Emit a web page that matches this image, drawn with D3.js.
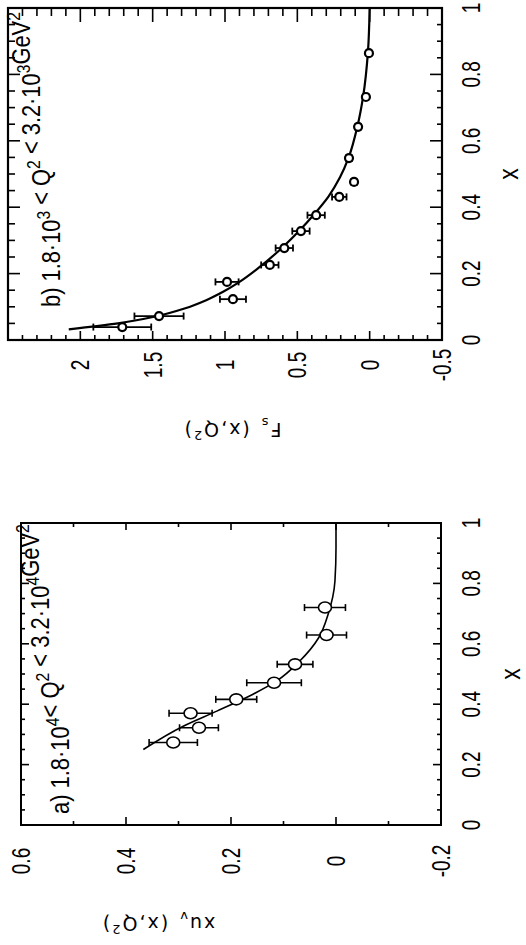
<!DOCTYPE html>
<html>
<head>
<meta charset="utf-8">
<title>xuv and Fs</title>
<script src="https://cdn.jsdelivr.net/npm/d3@7"></script>
<style>
  body { margin: 0; background: #fff; }
  svg text { font-family: "Liberation Sans", Arial, sans-serif; fill: #000; }
  svg text.lbl { font-family: "DejaVu Sans", sans-serif; }
</style>
</head>
<body>
<svg id="fig" width="526" height="945"></svg>
<script>
// common x axis
const xTicks = [0, 0.2, 0.4, 0.6, 0.8, 1];
const xTickLabels = ["0", "0.2", "0.4", "0.6", "0.8", "1"];

// a) xu_v(x,Q^2), 1.8e4 < Q^2 < 3.2e4 GeV^2
const xA = [0.273, 0.322, 0.370, 0.416, 0.471, 0.532, 0.629, 0.720];
const valA = [0.310, 0.261, 0.277, 0.190, 0.118, 0.078, 0.018, 0.021];
const errA = [0.046, 0.037, 0.041, 0.039, 0.052, 0.034, 0.038, 0.039];
const fitXA = [0.25, 0.328, 0.377, 0.433, 0.477, 0.543, 0.62, 0.698, 0.808, 0.918, 1.0];
const fitA = [0.367, 0.29, 0.227, 0.158, 0.113, 0.069, 0.033, 0.015, 0.002, 0.0, 0.0];
const yTicksA = [-0.2, 0, 0.2, 0.4, 0.6];
const yTickLabelsA = ["-0.2", "0", "0.2", "0.4", "0.6"];

// b) F_s(x,Q^2), 1.8e3 < Q^2 < 3.2e3 GeV^2
const xB = [0.039, 0.072, 0.123, 0.175, 0.226, 0.277, 0.328, 0.376, 0.431, 0.476, 0.548, 0.642, 0.732, 0.864];
const valB = [1.71, 1.456, 0.945, 0.986, 0.69, 0.59, 0.475, 0.37, 0.21, 0.108, 0.143, 0.08, 0.026, 0.005];
const errB = [0.20, 0.17, 0.09, 0.08, 0.06, 0.06, 0.06, 0.06, 0.05, 0.02, 0.02, 0.02, 0.015, 0.015];
const fitXB = [0.032, 0.05, 0.07, 0.095, 0.12, 0.146, 0.172, 0.22, 0.278, 0.332, 0.378, 0.432, 0.49, 0.55, 0.643, 0.734, 0.867, 1.0];
const fitB = [2.08, 1.74, 1.49, 1.28, 1.13, 1.01, 0.91, 0.76, 0.605, 0.48, 0.385, 0.285, 0.205, 0.145, 0.085, 0.045, 0.012, 0.0];
const yTicksB = [-0.5, 0, 0.5, 1, 1.5, 2];
const yTickLabelsB = ["-0.5", "0", "0.5", "1", "1.5", "2"];

const svg = d3.select("#fig");
svg.append("rect").attr("width", 526).attr("height", 945).attr("fill", "#fff");
// whole figure is turned a quarter turn counter-clockwise
const fig = svg.append("g").attr("transform", "translate(0,945) rotate(-90)");

const NARROW = 0.76; // the original lettering is condensed

function panel(o) {
  const g = fig.append("g");
  const x = d3.scaleLinear([0, 1], o.xr);
  const y = d3.scaleLinear(o.yd, o.yr);
  const [u0, u1] = o.xr, [vb, vt] = o.yr;

  g.append("rect").attr("x", u0).attr("y", vt).attr("width", u1 - u0).attr("height", vb - vt)
    .attr("fill", "none").attr("stroke", "#000").attr("stroke-width", o.frameW);

  // inward ticks on four sides
  const isMajor = (v, step) => Math.abs(v / step - Math.round(v / step)) < 1e-6;
  x.ticks(20).forEach(t => {
    const L = isMajor(t, 0.2) ? o.xTickL[0] : o.xTickL[1];
    g.append("line").attr("x1", x(t)).attr("x2", x(t)).attr("y1", vb).attr("y2", vb - L)
      .attr("stroke", "#000").attr("stroke-width", 1.6);
    const L2 = isMajor(t, 0.2) ? o.xTickT[0] : o.xTickT[1];
    g.append("line").attr("x1", x(t)).attr("x2", x(t)).attr("y1", vt).attr("y2", vt + L2)
      .attr("stroke", "#000").attr("stroke-width", 1.6);
  });
  y.ticks(o.yCount).forEach(t => {
    const L = isMajor(t, o.yMajor) ? o.yTickL[0] : o.yTickL[1];
    g.append("line").attr("x1", u0).attr("x2", u0 + L).attr("y1", y(t)).attr("y2", y(t))
      .attr("stroke", "#000").attr("stroke-width", 1.6);
    const L2 = isMajor(t, o.yMajor) ? o.yTickR[0] : o.yTickR[1];
    g.append("line").attr("x1", u1).attr("x2", u1 - L2).attr("y1", y(t)).attr("y2", y(t))
      .attr("stroke", "#000").attr("stroke-width", 1.6);
  });

  // tick labels
  g.selectAll(null).data(xTicks).join("text")
    .attr("transform", d => `translate(${x(d)},${o.xLabV}) scale(${NARROW},1)`)
    .attr("text-anchor", "middle").attr("font-size", 25).text((d, i) => xTickLabels[i]);
  g.selectAll(null).data(o.yTicks).join("text")
    .attr("transform", d => `translate(${o.yLabU},${y(d)}) scale(${NARROW},1)`)
    .attr("dy", "0.36em").attr("text-anchor", "middle")
    .attr("font-size", 25).text((d, i) => o.yTickLabels[i]);

  // axis titles
  g.append("text").attr("transform", `translate(${x(0.5)},${o.xTitleV}) scale(0.85,1)`)
    .attr("text-anchor", "middle").attr("font-size", 27).text("x");
  const yt = g.append("text").attr("class", "lbl")
    .attr("transform", `translate(${o.yTitleU},${o.yTitleV}) rotate(-90)`)
    .attr("text-anchor", "middle").attr("font-size", 19).attr("letter-spacing", 2);
  o.yTitle(yt);

  // panel label, squeezed to the width it has in the original
  const tt = g.append("text").attr("font-size", 25);
  o.title(tt);
  const len = tt.node().getComputedTextLength();
  tt.attr("transform", `translate(${o.titleU},${o.titleV}) scale(${o.titleLen / len},1)`);

  // fit curve
  const line = d3.line().x(d => x(d[0])).y(d => y(d[1])).curve(d3.curveMonotoneX);
  g.append("path").attr("d", line(d3.zip(o.fitX, o.fit)))
    .attr("fill", "none").attr("stroke", "#000").attr("stroke-width", o.curveW);

  // data with error bars
  const pts = d3.zip(o.px, o.pv, o.pe);
  const eb = g.selectAll(null).data(pts).join("g").attr("stroke", "#000").attr("stroke-width", o.errW);
  eb.append("line").attr("x1", d => x(d[0])).attr("x2", d => x(d[0]))
    .attr("y1", d => y(d[1] - d[2])).attr("y2", d => y(d[1] + d[2]));
  eb.append("line").attr("x1", d => x(d[0]) - o.cap).attr("x2", d => x(d[0]) + o.cap)
    .attr("y1", d => y(d[1] - d[2])).attr("y2", d => y(d[1] - d[2]));
  eb.append("line").attr("x1", d => x(d[0]) - o.cap).attr("x2", d => x(d[0]) + o.cap)
    .attr("y1", d => y(d[1] + d[2])).attr("y2", d => y(d[1] + d[2]));
  g.selectAll(null).data(pts).join("ellipse")
    .attr("cx", d => x(d[0])).attr("cy", d => y(d[1]))
    .attr("rx", o.r[0]).attr("ry", o.r[1])
    .attr("fill", "#fff").attr("stroke", "#000").attr("stroke-width", o.markW);
}

function sup(t, s) {
  t.append("tspan").attr("dy", -10).attr("font-size", 18).text(s);
  t.append("tspan").attr("dy", 10).text("");
}

function yLabel(main, sub) {
  return t => {
    t.append("tspan").text(main);
    t.append("tspan").attr("dy", 5).attr("font-size", 13).text(sub);
    t.append("tspan").attr("dy", -5).attr("dx", 10).text("(x,Q");
    t.append("tspan").attr("dy", -8).attr("font-size", 13).text("2");
    t.append("tspan").attr("dy", 8).text(")");
  };
}

panel({
  xr: [120, 422], yd: [-0.2, 0.6], yr: [441, 21], frameW: 2,
  xTickL: [8, 4], xTickT: [8, 4], yTickL: [8, 4], yTickR: [7, 4], yCount: 8, yMajor: 0.2,
  yTicks: yTicksA, yTickLabels: yTickLabelsA,
  xLabV: 480, yLabU: 84, xTitleV: 520,
  yTitleU: 28, yTitleV: 158, yTitle: yLabel("xu", "v"),
  titleU: 131, titleV: 69, titleLen: 290,
  title: t => {
    t.append("tspan").text("a)  1.8·10");
    sup(t, "4");
    t.append("tspan").text("< Q");
    sup(t, "2");
    t.append("tspan").text(" < 3.2·10");
    sup(t, "4");
    t.append("tspan").text("GeV");
    sup(t, "2");
  },
  fitX: fitXA, fit: fitA, curveW: 1.6,
  px: xA, pv: valA, pe: errA, errW: 1.6, cap: 3.5, r: [5.5, 6.5], markW: 1.6
});

panel({
  xr: [605, 937], yd: [-0.5, 2.5], yr: [442, 8], frameW: 2.2,
  xTickL: [12, 5], xTickT: [12, 7], yTickL: [9, 5], yTickR: [14, 8], yCount: 30, yMajor: 0.5,
  yTicks: yTicksB, yTickLabels: yTickLabelsB,
  xLabV: 480, yLabU: 580, xTitleV: 518,
  yTitleU: 522, yTitleV: 232, yTitle: yLabel("F", "s"),
  titleU: 638, titleV: 60, titleLen: 295,
  title: t => {
    t.append("tspan").text("b)   1.8·10");
    sup(t, "3");
    t.append("tspan").text(" < Q");
    sup(t, "2");
    t.append("tspan").text(" < 3.2·10");
    sup(t, "3");
    t.append("tspan").text("GeV");
    sup(t, "2");
  },
  fitX: fitXB, fit: fitB, curveW: 2.2,
  px: xB, pv: valB, pe: errB, errW: 1.8, cap: 3.5, r: [4, 4], markW: 2.2
});
</script>
</body>
</html>
